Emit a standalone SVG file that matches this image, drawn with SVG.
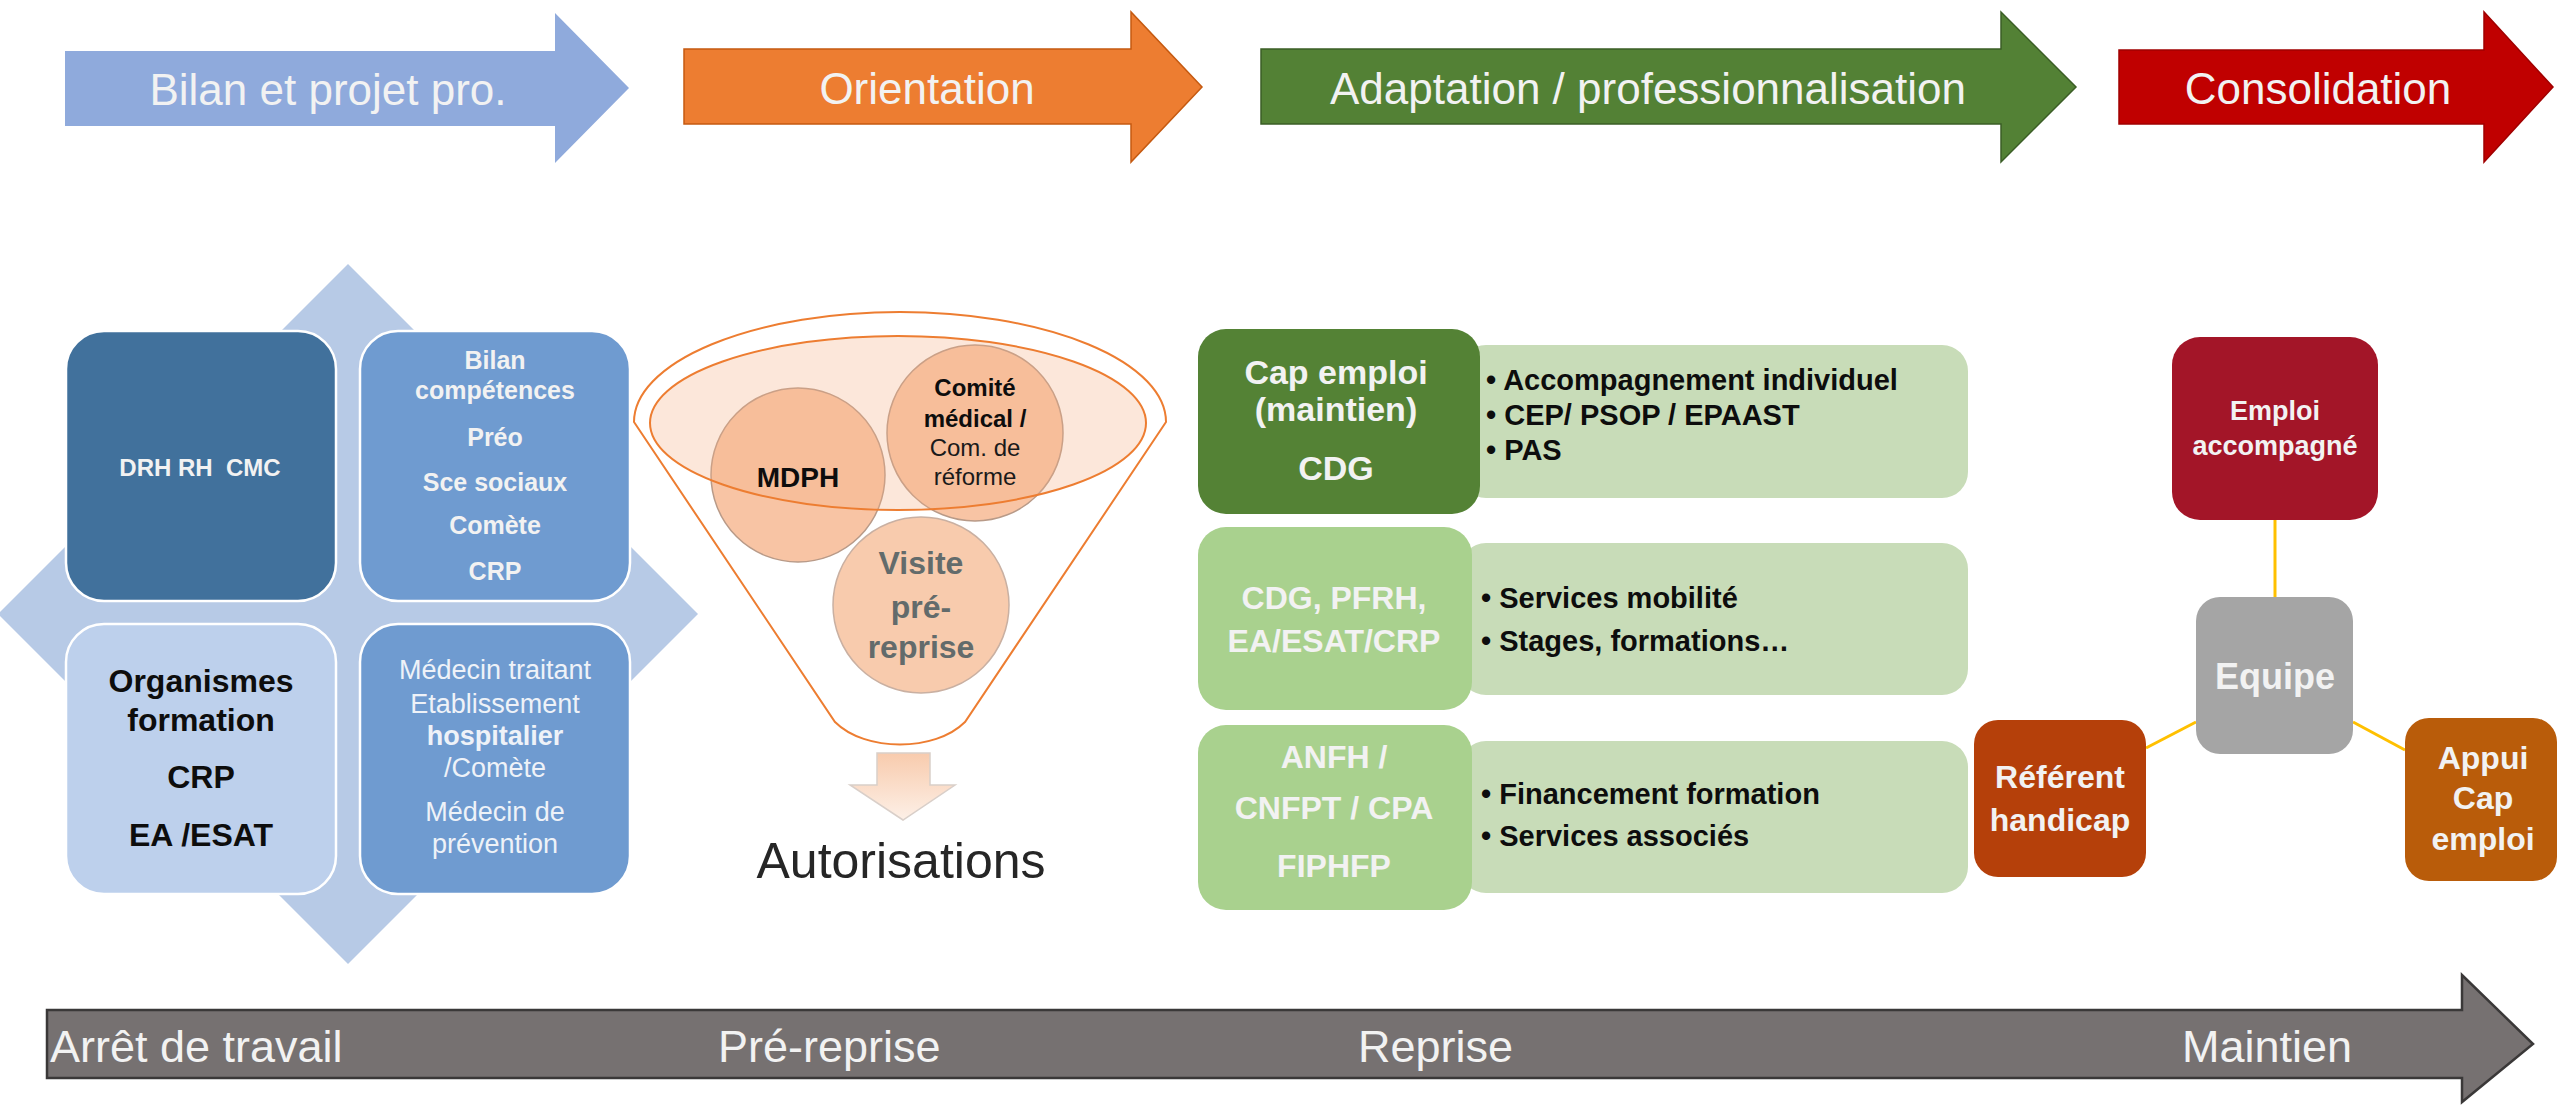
<svg xmlns="http://www.w3.org/2000/svg" width="2560" height="1109" viewBox="0 0 2560 1109">
<defs>
<style>
text{font-family:"Liberation Sans",Arial,sans-serif;}
.ph{font-size:44px;fill:#F2F2F2;text-anchor:middle;}
.tl{font-size:45px;fill:#F2F2F2;}
.w{fill:#F2F2F2;text-anchor:middle;font-weight:bold;}
.k{fill:#0D0D0D;text-anchor:middle;font-weight:bold;}
.quad{stroke:#FFFFFF;stroke-width:2.5;}
.bul{font-size:29px;font-weight:bold;fill:#0D0D0D;}
.lg{fill:#C8DCB8;}
.mg{fill:#A9D18E;}
.conn{stroke:#FFC000;stroke-width:3;fill:none;}
</style>
<linearGradient id="dn" x1="0" y1="0" x2="0" y2="1">
<stop offset="0" stop-color="#F8CBAD"/>
<stop offset="1" stop-color="#FDF0E7"/>
</linearGradient>
</defs>

<!-- Top phase arrows -->
<g id="phase-bilan">
<path d="M65,51 H555 V13 L629,88 L555,163 V126 H65 Z" fill="#8FAADC"/>
<text class="ph" x="328" y="105">Bilan et projet pro.</text>
</g>
<g id="phase-orientation">
<path d="M684,49 H1131 V12 L1202,87 L1131,162 V124 H684 Z" fill="#ED7D31" stroke="#C55A11" stroke-width="1.5"/>
<text class="ph" x="927" y="104">Orientation</text>
</g>
<g id="phase-adaptation">
<path d="M1261,49 H2001 V12 L2076,87 L2001,162 V124 H1261 Z" fill="#538135" stroke="#3B5E26" stroke-width="1.5"/>
<text class="ph" x="1648" y="104">Adaptation / professionnalisation</text>
</g>
<g id="phase-consolidation">
<path d="M2119,50 H2484 V12 L2553,87 L2484,162 V124 H2119 Z" fill="#C00000" stroke="#A00000" stroke-width="1.5"/>
<text class="ph" x="2318" y="104">Consolidation</text>
</g>

<!-- Left matrix -->
<g id="matrix">
<polygon points="348,264 698,614 348,964 -2,614" fill="#B7CAE6"/>
<g id="q-drh">
<rect class="quad" x="66" y="331" width="270" height="270" rx="38" fill="#41719C"/>
<text class="w" x="200" y="476" font-size="24" xml:space="preserve">DRH RH  CMC</text>
</g>
<g id="q-bilan">
<rect class="quad" x="360" y="331" width="270" height="270" rx="38" fill="#6F9BD0"/>
<text class="w" font-size="25" x="495" y="369">Bilan</text>
<text class="w" font-size="25" x="495" y="399">compétences</text>
<text class="w" font-size="25" x="495" y="446">Préo</text>
<text class="w" font-size="25" x="495" y="491">Sce sociaux</text>
<text class="w" font-size="25" x="495" y="534">Comète</text>
<text class="w" font-size="25" x="495" y="580">CRP</text>
</g>
<g id="q-organismes">
<rect class="quad" x="66" y="624" width="270" height="270" rx="38" fill="#BDD0EC"/>
<text class="k" font-size="32" x="201" y="692">Organismes</text>
<text class="k" font-size="32" x="201" y="731">formation</text>
<text class="k" font-size="32" x="201" y="788">CRP</text>
<text class="k" font-size="32" x="201" y="846">EA /ESAT</text>
</g>
<g id="q-medecin">
<rect class="quad" x="360" y="624" width="270" height="270" rx="38" fill="#6F9BD0"/>
<text font-size="27" fill="#EEF2F8" text-anchor="middle" x="495" y="679">Médecin traitant</text>
<text font-size="27" fill="#EEF2F8" text-anchor="middle" x="495" y="713">Etablissement</text>
<text font-size="27" fill="#EEF2F8" text-anchor="middle" font-weight="bold" x="495" y="745">hospitalier</text>
<text font-size="27" fill="#EEF2F8" text-anchor="middle" x="495" y="777">/Comète</text>
<text font-size="27" fill="#EEF2F8" text-anchor="middle" x="495" y="821">Médecin de</text>
<text font-size="27" fill="#EEF2F8" text-anchor="middle" x="495" y="853">prévention</text>
</g>
</g>

<!-- Funnel -->
<g id="funnel">
<path d="M634,422 A266,110 0 0 1 1166,422 L965,722 C935,752 865,752 835,722 Z" fill="#FFFFFF" stroke="#ED7D31" stroke-width="2"/>
<g id="c-mdph">
<circle cx="798" cy="475" r="87" fill="#F8C4A4" stroke="#B89A88" stroke-width="1.5"/>
</g>
<g id="c-comite">
<circle cx="975" cy="433" r="88" fill="#F8C4A4" stroke="#B89A88" stroke-width="1.5"/>
</g>
<g id="c-visite">
<circle cx="921" cy="605" r="88" fill="#F8CBAD" stroke="#C9B0A2" stroke-width="1.5"/>
<text font-weight="bold" font-size="32" fill="#636B6B" text-anchor="middle" x="921" y="574">Visite</text>
<text font-weight="bold" font-size="32" fill="#636B6B" text-anchor="middle" x="921" y="618">pré-</text>
<text font-weight="bold" font-size="32" fill="#636B6B" text-anchor="middle" x="921" y="658">reprise</text>
</g>
<ellipse cx="898" cy="423" rx="248" ry="87" fill="#F4B183" fill-opacity="0.3" stroke="#ED7D31" stroke-width="2"/>
<text class="k" font-size="28" x="798" y="487">MDPH</text>
<text class="k" font-size="24" x="975" y="396">Comité</text>
<text class="k" font-size="24" x="975" y="427">médical /</text>
<text font-size="24" fill="#1A1A1A" text-anchor="middle" x="975" y="456">Com. de</text>
<text font-size="24" fill="#1A1A1A" text-anchor="middle" x="975" y="485">réforme</text>
</g>
<g id="autorisations">
<path d="M877,753 H930 V785 H955 L903,820 L850,785 H877 Z" fill="url(#dn)" stroke="#D9CFC9" stroke-width="1.5"/>
<text font-size="50" fill="#262626" text-anchor="middle" x="901" y="878">Autorisations</text>
</g>

<!-- Adaptation rows -->
<g id="row-cap-emploi">
<rect class="lg" x="1460" y="345" width="508" height="153" rx="26"/>
<rect x="1198" y="329" width="282" height="185" rx="28" fill="#548235"/>
<text class="w" font-size="34" x="1336" y="384">Cap emploi</text>
<text class="w" font-size="34" x="1336" y="421">(maintien)</text>
<text class="w" font-size="34" x="1336" y="480">CDG</text>
<text class="bul" x="1486" y="390">• Accompagnement individuel</text>
<text class="bul" x="1486" y="425">• CEP/ PSOP / EPAAST</text>
<text class="bul" x="1486" y="460">• PAS</text>
</g>
<g id="row-cdg">
<rect class="lg" x="1460" y="543" width="508" height="152" rx="26"/>
<rect class="mg" x="1198" y="527" width="274" height="183" rx="28"/>
<text class="w" font-size="32" x="1334" y="609">CDG, PFRH,</text>
<text class="w" font-size="32" x="1334" y="652">EA/ESAT/CRP</text>
<text class="bul" x="1481" y="608">• Services mobilité</text>
<text class="bul" x="1481" y="651">• Stages, formations…</text>
</g>
<g id="row-anfh">
<rect class="lg" x="1460" y="741" width="508" height="152" rx="26"/>
<rect class="mg" x="1198" y="725" width="274" height="185" rx="28"/>
<text class="w" font-size="32" x="1334" y="768">ANFH /</text>
<text class="w" font-size="32" x="1334" y="819">CNFPT / CPA</text>
<text class="w" font-size="32" x="1334" y="877">FIPHFP</text>
<text class="bul" x="1481" y="804">• Financement formation</text>
<text class="bul" x="1481" y="846">• Services associés</text>
</g>

<!-- Team connectors -->
<g id="connectors">
<line class="conn" x1="2275" y1="520" x2="2275" y2="597"/>
<line class="conn" x1="2196" y1="722" x2="2146" y2="748"/>
<line class="conn" x1="2353" y1="722" x2="2405" y2="750"/>
</g>

<!-- Team nodes -->
<g id="n-emploi">
<rect x="2172" y="337" width="206" height="183" rx="28" fill="#A31528"/>
<text class="w" font-size="27" x="2275" y="420">Emploi</text>
<text class="w" font-size="27" x="2275" y="455">accompagné</text>
</g>
<g id="n-equipe">
<rect x="2196" y="597" width="157" height="157" rx="24" fill="#A5A5A5"/>
<text class="w" font-size="36" x="2275" y="689">Equipe</text>
</g>
<g id="n-referent">
<rect x="1974" y="720" width="172" height="157" rx="24" fill="#B5400A"/>
<text class="w" font-size="32" x="2060" y="788">Référent</text>
<text class="w" font-size="32" x="2060" y="831">handicap</text>
</g>
<g id="n-appui">
<rect x="2405" y="718" width="152" height="163" rx="24" fill="#B95C0A"/>
<text class="w" font-size="32" x="2483" y="769">Appui</text>
<text class="w" font-size="32" x="2483" y="809">Cap</text>
<text class="w" font-size="32" x="2483" y="850">emploi</text>
</g>

<!-- Timeline -->
<g id="timeline">
<path d="M47,1010 H2462 V975 L2533,1044 L2462,1102 V1078 H47 Z" fill="#767171" stroke="#3A3838" stroke-width="2.5"/>
<text class="tl" x="50" y="1062">Arrêt de travail</text>
<text class="tl" x="718" y="1062">Pré-reprise</text>
<text class="tl" x="1358" y="1062">Reprise</text>
<text class="tl" x="2182" y="1062">Maintien</text>
</g>
</svg>
